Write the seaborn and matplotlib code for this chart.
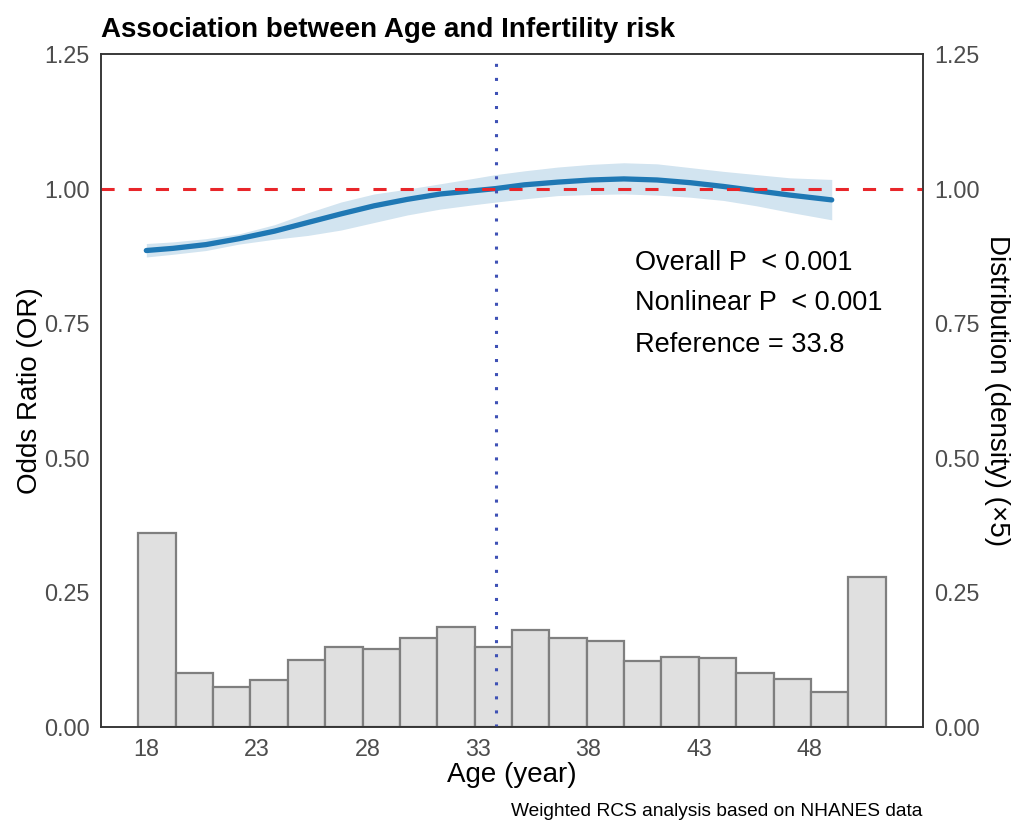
import numpy as np
import pandas as pd
import seaborn as sns
from matplotlib import pyplot as plt

# spline curve
age = [18.0, 19.2, 20.7, 22.2, 23.8, 25.3, 26.8, 28.3, 29.8, 31.3, 32.8,
       33.8, 35.1, 36.6, 38.1, 39.6, 41.1, 42.6, 44.1, 45.6, 47.1, 49.0]
odds = [0.885, 0.889, 0.896, 0.907, 0.921, 0.937, 0.953, 0.968, 0.980, 0.990, 0.996,
        1.000, 1.007, 1.012, 1.016, 1.018, 1.016, 1.011, 1.004, 0.996, 0.988, 0.979]
upper = [0.898, 0.901, 0.907, 0.916, 0.933, 0.955, 0.975, 0.990, 0.999, 1.009, 1.019,
         1.026, 1.033, 1.040, 1.045, 1.048, 1.046, 1.039, 1.032, 1.026, 1.020, 1.017]
lower = [0.873, 0.878, 0.885, 0.897, 0.906, 0.913, 0.923, 0.937, 0.951, 0.962, 0.970,
         0.975, 0.981, 0.987, 0.989, 0.990, 0.988, 0.984, 0.978, 0.968, 0.956, 0.942]

# histogram of age (density x5)
hist_start = 17.64
hist_width = 1.69
hist_heights = [0.360, 0.101, 0.074, 0.088, 0.124, 0.148, 0.145, 0.166, 0.186, 0.148,
                0.180, 0.166, 0.160, 0.122, 0.131, 0.128, 0.101, 0.089, 0.065, 0.278]

ref_age = 33.8
x_ticks = [18, 23, 28, 33, 38, 43, 48]
y_ticks = [0.00, 0.25, 0.50, 0.75, 1.00, 1.25]
notes = ["Overall P  < 0.001", "Nonlinear P  < 0.001", "Reference = 33.8"]
note_y = [0.861, 0.787, 0.709]

sns.set_theme(style="white")
plt.rcParams['font.family'] = ['Liberation Sans', 'DejaVu Sans']
plt.rcParams['text.color'] = 'black'
plt.rcParams['axes.labelcolor'] = 'black'

edges = hist_start + hist_width * np.arange(len(hist_heights) + 1)
mids = (edges[:-1] + edges[1:]) / 2
df_hist = pd.DataFrame({'age': mids, 'h': hist_heights})
df_curve = pd.DataFrame({'age': age, 'odds': odds, 'upper': upper, 'lower': lower})

fig = plt.figure(figsize=(10.15, 8.23), dpi=100)
ax = fig.add_axes([0.0995, 0.1166, 0.8099, 0.8178])

sns.histplot(data=df_hist, x='age', weights='h', bins=edges.tolist(), ax=ax,
             color='#E0E0E0', edgecolor='#7F7F7F', linewidth=1.6, alpha=1, zorder=1)
ax.fill_between(df_curve['age'], df_curve['lower'], df_curve['upper'],
                color='#1F78B4', alpha=0.2, linewidth=0, zorder=2)
sns.lineplot(data=df_curve, x='age', y='odds', ax=ax, color='#1F78B4', linewidth=3.8, zorder=3)
ax.axhline(1.0, color='#E8262A', linewidth=2.2, linestyle=(0, (4.3, 4.6)), zorder=4)
ax.axvline(ref_age, color='#3F51B5', linewidth=2.2, linestyle=(0, (1, 3.6)), zorder=4)

for txt, yy in zip(notes, note_y):
    ax.text(40.1, yy, txt, fontsize=19.5, va='center', ha='left', color='black')

ax.set_xlim(15.95, 53.13)
ax.set_ylim(0, 1.25)
ax.set_xticks(x_ticks)
ax.set_yticks(y_ticks)
ax.set_yticklabels(['%.2f' % v for v in y_ticks])
ax.tick_params(length=0, labelsize=16.8, labelcolor='#4D4D4D', pad=8)
ax.set_xlabel('Age (year)', fontsize=20)
ax.set_ylabel('Odds Ratio (OR)', fontsize=20)
ax.xaxis.label.set_va('center')
ax.yaxis.label.set_va('center')
ax.xaxis.set_label_coords(0.5, -0.071)
ax.yaxis.set_label_coords(-0.0865, 0.5)
for s in ax.spines.values():
    s.set_color('#333333')
    s.set_linewidth(1.1)

ax2 = ax.twinx()
ax2.set_ylim(0, 1.25)
ax2.set_yticks(y_ticks)
ax2.set_yticklabels(['%.2f' % v for v in y_ticks])
ax2.tick_params(length=0, labelsize=16.8, labelcolor='#4D4D4D', pad=8)
ax2.set_ylabel('Distribution (density) (\u00d75)', fontsize=20, rotation=270)
ax2.yaxis.label.set_va('center')
ax2.yaxis.set_label_coords(1.09, 0.5)
for s in ax2.spines.values():
    s.set_color('#333333')
    s.set_linewidth(1.1)

ax.set_title('Association between Age and Infertility risk', loc='left',
             fontsize=20, fontweight='bold', pad=12, color='black')
fig.text(0.9084, 0.0145, 'Weighted RCS analysis based on NHANES data',
         fontsize=13.8, ha='right', va='center', color='black')

fig.savefig('out.png', dpi=100)
